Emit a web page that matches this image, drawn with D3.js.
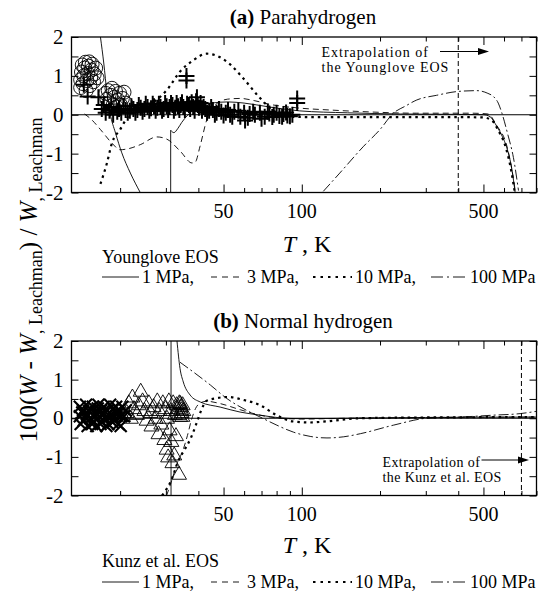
<!DOCTYPE html>
<html>
<head>
<meta charset="utf-8">
<script src="https://cdn.jsdelivr.net/npm/d3@7"></script>
<style>
  body { margin: 0; background: #fff; }
  svg, svg text { font-family: "Liberation Serif", serif; }
</style>
</head>
<body>
<div id="chart"></div>
<script>
// axis setup
const tempDomain = [13, 800];
const xTicksMajor = [50, 100, 500];
const xTicksMinor = [20, 30, 40, 60, 70, 80, 90, 200, 300, 400, 600, 700, 800];
const yTicksMajor = [-2, -1, 0, 1, 2];
const yTicksMinor = [-1.5, -0.5, 0.5, 1.5];
const pressureLabels = ["1 MPa,", "3 MPa,", "10 MPa,", "100 MPa"];

// (a) parahydrogen, Younglove EOS vs Leachman  [T (K), deviation %]
const paraLiquid1 = [[16.8, 2.0], [17.3, 1.33], [17.8, 0.56], [18.3, 0.04], [19.2, -0.47], [20.3, -0.98], [21.9, -1.5], [23.9, -2.0]];
const paraJump1 = [[31.3, -2.0], [31.3, -0.4]];
const paraVapor1 = [[31.3, -0.4], [32.2, -0.46], [33.3, -0.36], [34.5, -0.2], [36.5, 0.0], [40, 0.2], [45, 0.3], [52, 0.33], [60, 0.3], [75, 0.2], [98, 0.1], [150, 0.05], [240, 0.02], [400, 0.01], [500, 0.0], [530, -0.05], [563, -0.3], [590, -0.55], [615, -0.85], [643, -1.4], [662, -2.0]];
const para3 = [[14.6, 0.02], [15.5, -0.12], [16.8, -0.38], [18.6, -0.73], [20.0, -0.9], [21.3, -0.88], [23.9, -0.77], [27.7, -0.57], [30.3, -0.63], [34.1, -0.94], [37.8, -1.24], [38.9, -1.22], [40.6, -0.81], [43.1, -0.13], [45.8, 0.21], [51.7, 0.4], [58, 0.42], [66, 0.36], [75, 0.27], [95, 0.18], [130, 0.12], [172, 0.08], [277, 0.04], [450, 0.04], [520, 0.02], [563, -0.28], [615, -0.8], [643, -1.4], [664, -2.0]];
const para10 = [[16.8, -1.78], [17.8, -1.24], [18.6, -0.73], [20.0, -0.38], [21.5, -0.04], [23.9, 0.13], [26.6, 0.3], [30.3, 0.64], [34.1, 1.12], [38.2, 1.4], [43.1, 1.57], [47, 1.52], [51.6, 1.36], [60.4, 0.89], [68.4, 0.46], [77.3, 0.12], [87.5, -0.05], [110, -0.06], [200, -0.06], [400, -0.06], [500, -0.07], [540, -0.15], [570, -0.4], [610, -0.85], [640, -1.45], [660, -2.0]];
const para100 = [[121, -1.97], [140, -1.5], [173, -0.81], [200, -0.38], [225, 0.04], [250, 0.22], [277, 0.38], [330, 0.5], [400, 0.6], [472, 0.62], [520, 0.55], [546, 0.47], [570, 0.3], [589, 0.04], [620, -0.5], [652, -1.1], [682, -1.95]];
const paraCircles = [[14.1, 0.7], [14.1, 0.9], [14.2, 1.1], [14.3, 1.28], [14.4, 0.8], [14.5, 1.0], [14.6, 1.2], [14.7, 1.35], [14.8, 0.62], [14.9, 0.88], [15.0, 1.06], [15.1, 1.25], [15.2, 1.36], [15.3, 0.75], [15.4, 0.95], [15.5, 1.15], [15.6, 1.3], [15.8, 0.85], [15.9, 1.05], [16.1, 1.2], [16.3, 0.95],
  [17.6, 0.55], [17.8, 0.4], [18.0, 0.62], [18.2, 0.3], [18.4, 0.5], [18.6, 0.68], [18.8, 0.25], [19.0, 0.45], [19.2, 0.6], [19.4, 0.2], [19.6, 0.38], [19.9, 0.55], [20.1, 0.25], [20.4, 0.42], [20.7, 0.58], [21.0, 0.3]];
const paraCrosses = [[14.5, 0.77], [15.0, 0.47], [16.5, 0.45], [17.0, 0.15], [17.6, 0.05], [18.2, 0.1], [18.8, 0.0], [19.5, 0.08], [20.2, 0.05], [21.0, 0.12], [21.8, 0.1], [22.5, 0.15], [23.3, 0.12], [24.0, 0.18], [24.8, 0.15], [25.5, 0.2], [26.3, 0.17], [27.0, 0.22], [27.8, 0.18], [28.6, 0.2], [29.4, 0.15], [30.2, 0.22], [31.0, 0.2], [31.8, 0.25], [32.6, 0.18], [33.4, 0.22], [34.2, 0.25], [35.0, 0.2], [36.0, 0.88], [36.0, 1.0], [36.2, 0.28], [37.2, 0.15], [38.2, 0.2], [39.2, 0.35], [39.5, 0.45], [40.2, 0.18], [41.3, 0.1], [42.5, 0.15], [44, 0.1], [45.5, 0.12], [47, 0.05], [49, 0.08], [51, 0.05], [53, 0.0], [55, 0.08], [58, -0.05], [60, 0.05], [60.5, -0.15], [63, 0.02], [66, 0.0], [69, 0.05], [72, -0.05], [75, 0.03], [78, 0.0], [82, -0.03], [85, 0.02], [88, -0.02], [92, 0.0], [96, 0.3], [96, 0.42],
  [17.3, 0.25], [18.5, 0.2], [19.8, 0.15], [20.6, 0.22], [21.4, 0.05], [22.1, 0.22], [22.9, 0.05], [23.6, 0.25], [24.4, 0.08], [25.1, 0.28], [25.9, 0.1], [26.7, 0.28], [27.4, 0.1], [28.2, 0.28], [29.0, 0.1], [29.8, 0.3], [30.6, 0.12], [31.4, 0.3], [32.2, 0.1], [33.0, 0.3], [33.8, 0.12], [34.6, 0.32], [35.5, 0.12], [36.8, 0.25], [37.7, 0.32], [38.7, 0.1], [39.8, 0.25], [40.8, 0.3], [41.9, 0.2], [43.2, 0.05], [44.8, 0.2], [46.3, 0.0], [48, 0.15], [50, -0.02], [52, 0.12], [54, -0.05], [57, 0.1], [62, -0.08], [65, 0.08], [70, -0.1], [74, 0.08], [77, -0.06], [80, 0.05], [84, -0.05], [87, 0.06], [90, -0.04]];

// (b) normal hydrogen, Kunz et al. EOS vs Leachman
const normJump1 = [[31.4, -2.0], [31.4, 2.0]];
const normVapor1 = [[33.1, 2.0], [34.0, 1.29], [35.0, 0.94], [37.2, 0.6], [40.7, 0.42], [48.5, 0.29], [57.9, 0.16], [69.2, 0.08], [82.6, 0.01], [98.6, -0.01], [150, 0.0], [300, 0.02], [800, 0.03]];
const norm3 = [[30.2, -2.0], [31.8, -1.55], [33.2, -1.15], [34.8, -0.85], [36.3, -0.45], [37.6, -0.05], [39.0, 0.25], [40.8, 0.4], [43, 0.44], [48.5, 0.38], [58, 0.22], [69, 0.08], [83, 0.0], [100, -0.02], [150, 0.0], [300, 0.02], [800, 0.03]];
const norm10 = [[29.0, -2.0], [31.5, -1.6], [33.5, -1.1], [35.5, -0.8], [37.5, -0.5], [39.5, -0.1], [41, 0.2], [43, 0.45], [47, 0.52], [52, 0.55], [60, 0.47], [69, 0.34], [80, 0.08], [92, -0.08], [107, -0.11], [125, -0.08], [168, 0.0], [300, 0.02], [800, 0.03]];
const norm100 = [[34.0, 1.45], [44.5, 0.86], [51.5, 0.51], [61.5, 0.2], [69.2, 0.03], [80.2, -0.18], [92.9, -0.36], [107.7, -0.47], [125, -0.51], [145, -0.48], [168, -0.4], [225, -0.18], [303, 0.0], [406, 0.03], [546, 0.08], [692, 0.12], [800, 0.18]];
const normStars = [[14.0, 0.3], [14.0, 0.05], [14.1, -0.15], [14.3, 0.15], [14.4, 0.2], [14.5, -0.05], [14.7, 0.0], [14.8, 0.35], [14.9, 0.1], [15.0, -0.2], [15.2, 0.18], [15.3, 0.25], [15.4, 0.0], [15.6, -0.15], [15.7, 0.3], [15.8, -0.1], [16.0, 0.05], [16.1, 0.15], [16.2, -0.2], [16.4, 0.25], [16.5, 0.35], [16.6, 0.05], [16.8, -0.15], [16.9, 0.2], [17.0, -0.1], [17.2, 0.1], [17.3, 0.3], [17.5, 0.0], [17.7, -0.2], [17.8, 0.2], [18.0, -0.15], [18.2, 0.05], [18.3, 0.35], [18.5, 0.1], [18.7, -0.1], [18.8, 0.25], [19.0, -0.05], [19.2, 0.15], [19.3, 0.3], [19.5, 0.1], [19.7, -0.15], [19.8, 0.2], [20.1, -0.2], [20.2, 0.05], [20.4, 0.3], [20.7, 0.05], [21.0, 0.2]];
const normTriangles = [[20.5, 0.05], [21.2, 0.15], [21.6, 0.4], [22.0, 0.0], [22.3, 0.55], [22.6, 0.25], [23.2, 0.1], [23.6, 0.35], [24.0, 0.7], [24.4, 0.45], [24.8, 0.2], [25.3, -0.05], [25.8, 0.4], [26.2, 0.15], [26.4, -0.2], [26.9, 0.3], [27.4, 0.0], [27.8, 0.45], [28.1, -0.4], [28.3, 0.2], [28.8, -0.15], [29.2, 0.4], [29.6, -0.55], [29.9, 0.25], [30.2, -0.8], [30.3, 0.0], [30.6, -1.0], [30.8, 0.45], [31.0, -0.3], [31.3, 0.2], [31.5, -0.6], [31.8, -1.15], [32.0, 0.4], [32.3, -0.95], [32.5, 0.1], [32.8, -0.45], [33.0, 0.35], [33.2, 0.25], [33.6, 0.1], [33.7, -1.45], [33.8, 0.4], [34.0, 0.05], [34.1, 0.38], [34.2, 0.3], [34.4, 0.22], [34.5, 0.15], [34.7, 0.05], [34.8, 0.35], [35.0, 0.2]];

// ---- drawing ----
const FONT = "Liberation Serif, serif";
const styles = [
  { dash: null, width: 0.9 },
  { dash: "6,4", width: 0.9 },
  { dash: "2.5,4", width: 2.2 },
  { dash: "10,3,2,3", width: 0.9 }
];

const svg = d3.select("#chart").append("svg")
  .attr("width", 545)
  .attr("height", 593)
  .attr("font-family", FONT);
const defs = svg.append("defs");

const x = d3.scaleLog().domain(tempDomain).range([71.5, 536.5]);

function label(sel, size) {
  return sel.append("text").attr("font-family", FONT).style("font-size", size + "px");
}

function drawPanel(p) {
  const y = d3.scaleLinear().domain([-2, 2]).range([p.bottom, p.top]);
  const [x0, x1] = x.range();
  const g = svg.append("g");

  defs.append("clipPath").attr("id", "clip-" + p.id)
    .append("rect")
    .attr("x", x0).attr("y", p.top)
    .attr("width", x1 - x0).attr("height", p.bottom - p.top);

  const plot = g.append("g").attr("clip-path", `url(#clip-${p.id})`);

  // zero line
  plot.append("line")
    .attr("x1", x0).attr("x2", x1)
    .attr("y1", y(0)).attr("y2", y(0))
    .attr("stroke", "#000").attr("stroke-width", 1);

  // extrapolation limit
  plot.append("line")
    .attr("x1", x(p.limitT)).attr("x2", x(p.limitT))
    .attr("y1", p.top).attr("y2", p.bottom)
    .attr("stroke", "#000").attr("stroke-width", 1)
    .attr("stroke-dasharray", "5,3");

  // data markers
  const mk = plot.append("g").attr("fill", "none").attr("stroke", "#000");
  if (p.circles) {
    mk.selectAll(".circ").data(p.circles).enter().append("circle")
      .attr("cx", d => x(d[0])).attr("cy", d => y(d[1]))
      .attr("r", 7).attr("stroke-width", 0.9);
  }
  if (p.crosses) {
    mk.selectAll(".cross").data(p.crosses).enter().append("path")
      .attr("d", d => `M${x(d[0]) - 8},${y(d[1])}h16M${x(d[0])},${y(d[1]) - 8}v16`)
      .attr("stroke-width", 2);
  }
  if (p.stars) {
    mk.selectAll(".star").data(p.stars).enter().append("path")
      .attr("d", d => `M${x(d[0]) - 6},${y(d[1]) - 6}l12,12M${x(d[0]) - 6},${y(d[1]) + 6}l12,-12`)
      .attr("stroke-width", 2.2);
  }
  if (p.triangles) {
    mk.selectAll(".tri").data(p.triangles).enter().append("path")
      .attr("d", d => `M${x(d[0])},${y(d[1]) - 8}l7.5,13h-15z`)
      .attr("stroke-width", 0.9);
  }

  // curves
  const smooth = d3.line().x(d => x(d[0])).y(d => y(d[1])).curve(d3.curveMonotoneX);
  const straight = d3.line().x(d => x(d[0])).y(d => y(d[1]));
  p.curves.forEach(c => {
    const s = styles[c.style];
    plot.append("path")
      .attr("d", (c.straight ? straight : smooth)(c.data))
      .attr("fill", "none")
      .attr("stroke", "#000")
      .attr("stroke-width", s.width)
      .attr("stroke-dasharray", s.dash);
  });

  // ticks, all pointing inwards
  const yAll = yTicksMajor.concat(yTicksMinor);
  const tickSets = [
    [d3.axisBottom(x).tickValues(xTicksMajor).tickSizeInner(-8), `translate(0,${p.bottom})`],
    [d3.axisBottom(x).tickValues(xTicksMinor).tickSizeInner(-4.5), `translate(0,${p.bottom})`],
    [d3.axisTop(x).tickValues(xTicksMajor).tickSizeInner(-8), `translate(0,${p.top})`],
    [d3.axisTop(x).tickValues(xTicksMinor).tickSizeInner(-4.5), `translate(0,${p.top})`],
    [d3.axisLeft(y).tickValues(yAll).tickSizeInner(-7), `translate(${x0},0)`],
    [d3.axisRight(y).tickValues(yAll).tickSizeInner(-7), `translate(${x1},0)`]
  ];
  tickSets.forEach(([ax, tr]) => {
    g.append("g").attr("transform", tr)
      .call(ax.tickSizeOuter(0).tickFormat(""))
      .call(a => a.select(".domain").remove())
      .selectAll("line").attr("stroke", "#000").attr("stroke-width", 1);
  });

  g.append("rect")
    .attr("x", x0).attr("y", p.top)
    .attr("width", x1 - x0).attr("height", p.bottom - p.top)
    .attr("fill", "none").attr("stroke", "#000").attr("stroke-width", 1.3);

  // tick labels
  yTicksMajor.forEach(d => {
    label(g, 21).attr("x", x0 - 8).attr("y", y(d) + 7)
      .attr("text-anchor", "end").text(d);
  });
  xTicksMajor.forEach(d => {
    label(g, 20).attr("x", x(d)).attr("y", p.bottom + 25.5)
      .attr("text-anchor", "middle").text(d);
  });

  // panel title
  const t = label(g, 21).attr("x", 303).attr("y", p.top - 13).attr("text-anchor", "middle");
  t.append("tspan").style("font-weight", "bold").text(p.tag);
  t.append("tspan").text(" " + p.name);

  // axis title
  const at = label(g, 24).attr("x", 307).attr("y", p.axisY).attr("text-anchor", "middle");
  at.append("tspan").style("font-style", "italic").text("T");
  at.append("tspan").text(" , K");

  // extrapolation note
  p.note.lines.forEach((s, i) => {
    label(g, 14).attr("x", p.note.x).attr("y", p.note.y + i * 15)
      .style("letter-spacing", p.note.spacing + "px")
      .text(s);
  });
  g.append("line")
    .attr("x1", p.arrow[0]).attr("x2", p.arrow[1] - 8)
    .attr("y1", p.arrow[2]).attr("y2", p.arrow[2])
    .attr("stroke", "#000").attr("stroke-width", 1);
  g.append("path")
    .attr("d", `M${p.arrow[1]},${p.arrow[2]}l-11,-3.5v7z`)
    .attr("fill", "#000");

  // legend
  label(g, 18).attr("x", 102).attr("y", p.legendTitleY).text(p.legendTitle);
  const samples = [[102, 139, 142], [211, 244, 247], [313, 352, 355], [431, 467, 470]];
  samples.forEach((s, i) => {
    g.append("line")
      .attr("x1", s[0]).attr("x2", s[1])
      .attr("y1", p.legendY - 6).attr("y2", p.legendY - 6)
      .attr("stroke", "#000")
      .attr("stroke-width", i === 2 ? 1.8 : 0.9)
      .attr("stroke-dasharray", i === 1 ? "6,5" : i === 2 ? "2.5,5" : i === 3 ? "12,4,2,4" : null);
    label(g, 18).attr("x", s[2]).attr("y", p.legendY).text(pressureLabels[i]);
  });
}

drawPanel({
  id: "a", top: 37, bottom: 192.5, tag: "(a)", name: "Parahydrogen",
  limitT: 400, axisY: 252, legendTitle: "Younglove EOS", legendTitleY: 263, legendY: 283,
  note: { x: 321.5, y: 56.5, spacing: 1, lines: ["Extrapolation of", "the Younglove EOS"] },
  arrow: [440, 489, 51.5],
  circles: paraCircles, crosses: paraCrosses,
  curves: [
    { data: paraLiquid1, style: 0 },
    { data: paraJump1, style: 0, straight: true },
    { data: paraVapor1, style: 0 },
    { data: para3, style: 1 },
    { data: para10, style: 2 },
    { data: para100, style: 3 }
  ]
});

drawPanel({
  id: "b", top: 341, bottom: 495.5, tag: "(b)", name: "Normal hydrogen",
  limitT: 700, axisY: 553, legendTitle: "Kunz et al. EOS", legendTitleY: 567, legendY: 588,
  note: { x: 382.5, y: 466.5, spacing: 0.4, lines: ["Extrapolation of", "the Kunz et al. EOS"] },
  arrow: [481.5, 529, 460],
  stars: normStars, triangles: normTriangles,
  curves: [
    { data: normJump1, style: 0, straight: true },
    { data: normVapor1, style: 0 },
    { data: norm3, style: 1 },
    { data: norm10, style: 2 },
    { data: norm100, style: 3 }
  ]
});

// shared y-axis title
const yt = label(svg, 25).attr("transform", "translate(37,280) rotate(-90)")
  .attr("text-anchor", "middle");
yt.append("tspan").text("100(");
yt.append("tspan").style("font-style", "italic").text("W");
yt.append("tspan").text(" - ");
yt.append("tspan").style("font-style", "italic").text("W");
yt.append("tspan").attr("dy", 5).style("font-size", "18px").text(", Leachman");
yt.append("tspan").attr("dy", -5).text(") / ");
yt.append("tspan").style("font-style", "italic").text("W");
yt.append("tspan").attr("dy", 5).style("font-size", "18px").text(", Leachman");
</script>
</body>
</html>
